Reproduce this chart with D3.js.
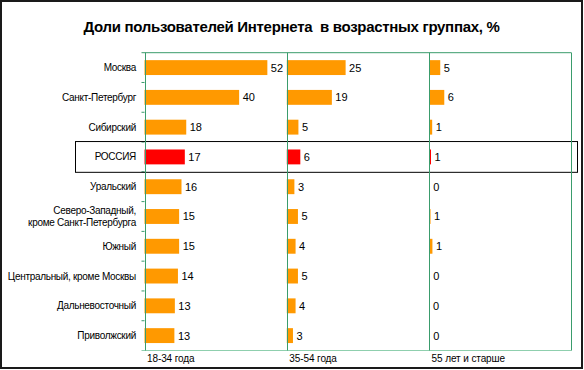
<!DOCTYPE html>
<html>
<head>
<meta charset="utf-8">
<script src="https://cdnjs.cloudflare.com/ajax/libs/d3/7.8.5/d3.min.js"></script>
<style>
  html, body { margin: 0; padding: 0; background: #fff; }
  svg { display: block; font-family: "Liberation Sans", Arial, sans-serif; }
</style>
</head>
<body>
<div id="chart"></div>
<script>
// regions, top to bottom
var regions = ["Москва", "Санкт-Петербург", "Сибирский", "РОССИЯ", "Уральский",
  "Северо-Западный,|кроме Санкт-Петербурга", "Южный", "Центральный, кроме Москвы",
  "Дальневосточный", "Приволжский"];
var ageGroups = ["18-34 года", "35-54 года", "55 лет и старше"];
// shares per age group, % (bar lengths estimated, labels rounded)
var young  = [51.8, 39.9, 17.6, 17.0, 15.6, 14.6, 14.6, 14.1, 12.8, 12.6];
var middle = [24.8, 19.0, 4.9, 5.7, 3.2, 4.7, 3.7, 4.7, 3.7, 2.6];
var senior = [4.7, 6.4, 1.3, 0.8, 0.3, 0.6, 1.4, 0.3, 0.15, 0.3];
var series = [young, middle, senior];
var highlight = "РОССИЯ";

var width = 584, height = 370;
var plotLeft = 144.5, plotTop = 52.7, plotBottom = 350.5, panelW = 142.3;

var svg = d3.select("#chart").append("svg")
    .attr("width", width)
    .attr("height", height);

// outer frame
svg.append("rect")
    .attr("x", 1).attr("y", 1)
    .attr("width", 581).attr("height", 367)
    .attr("fill", "none")
    .attr("stroke", "#1a1a1a")
    .attr("stroke-width", 2);

svg.append("text")
    .attr("x", 291.5).attr("y", 32)
    .attr("text-anchor", "middle")
    .attr("font-size", 15)
    .attr("font-weight", "bold")
    .attr("letter-spacing", -0.3)
    .attr("fill", "#000")
    .attr("xml:space", "preserve")
    .text("Доли пользователей Интернета  в возрастных группах, %");

var y = d3.scaleBand()
    .domain(regions)
    .range([plotTop, plotBottom])
    .paddingInner(0.5)
    .paddingOuter(0.25);

var x = d3.scaleLinear().domain([0, 60]).range([0, panelW]);

// category boundary ticks on the left axis
var step = y.step();
svg.selectAll(".cattick")
    .data(d3.range(1, regions.length))
    .enter().append("line")
    .attr("x1", plotLeft - 3).attr("x2", plotLeft)
    .attr("y1", function(i) { return plotTop + i * step; })
    .attr("y2", function(i) { return plotTop + i * step; })
    .attr("stroke", "#3a9c6c");

// highlight box for Russia
var ry = y(highlight) - y.bandwidth() / 2 - 0.5;
svg.append("rect")
    .attr("x", 75.5).attr("y", ry)
    .attr("width", 502).attr("height", y.bandwidth() * 2 + 1)
    .attr("fill", "none")
    .attr("stroke", "#000")
    .attr("stroke-width", 1);

// category labels
var lab = svg.selectAll(".cat")
    .data(regions)
    .enter().append("text")
    .attr("text-anchor", "end")
    .attr("font-size", 10)
    .attr("letter-spacing", -0.3)
    .attr("fill", "#000");
lab.each(function(d) {
  var lines = d.split("|");
  var cy = y(d) + y.bandwidth() / 2;
  var t = d3.select(this);
  lines.forEach(function(s, k) {
    t.append("tspan")
      .attr("x", 136)
      .attr("y", cy + (k - (lines.length - 1) / 2) * 11.8)
      .attr("dy", "0.35em")
      .text(s);
  });
});

series.forEach(function(vals, p) {
  var x0 = plotLeft + p * panelW;
  var g = svg.append("g").attr("transform", "translate(" + x0 + ",0)");

  g.selectAll("rect")
    .data(vals)
    .enter().append("rect")
    .attr("x", 0)
    .attr("y", function(d, i) { return y(regions[i]); })
    .attr("width", function(d) { return x(d); })
    .attr("height", y.bandwidth())
    .attr("fill", function(d, i) { return regions[i] === highlight ? "#ff0000" : "#ff9900"; })
    .attr("opacity", function(d) { return x(d) < 1 ? 0.45 : 1; });

  g.selectAll(".val")
    .data(vals)
    .enter().append("text")
    .attr("x", function(d) { return x(d) + 3.5; })
    .attr("y", function(d, i) { return y(regions[i]) + y.bandwidth() / 2; })
    .attr("dy", "0.36em")
    .attr("font-size", 11)
    .attr("fill", "#000")
    .text(function(d) { return Math.round(d); });

  g.append("text")
    .attr("x", 2.5)
    .attr("y", 358)
    .attr("dy", "0.35em")
    .attr("font-size", 10)
    .attr("letter-spacing", -0.1)
    .attr("fill", "#000")
    .text(ageGroups[p]);
});

// plot frame lines
svg.append("line")
    .attr("x1", plotLeft - 3).attr("x2", plotLeft + 3 * panelW)
    .attr("y1", plotTop).attr("y2", plotTop)
    .attr("stroke", "#3a9c6c");
svg.append("line")
    .attr("x1", plotLeft - 3).attr("x2", plotLeft + 3 * panelW)
    .attr("y1", plotBottom).attr("y2", plotBottom)
    .attr("stroke", "#8fcfae");
d3.range(4).forEach(function(k) {
  var xx = Math.round(plotLeft + k * panelW) + 0.5;
  svg.append("line")
    .attr("x1", xx).attr("x2", xx)
    .attr("y1", plotTop).attr("y2", plotBottom)
    .attr("stroke", "#3a9c6c");
});
</script>
</body>
</html>
